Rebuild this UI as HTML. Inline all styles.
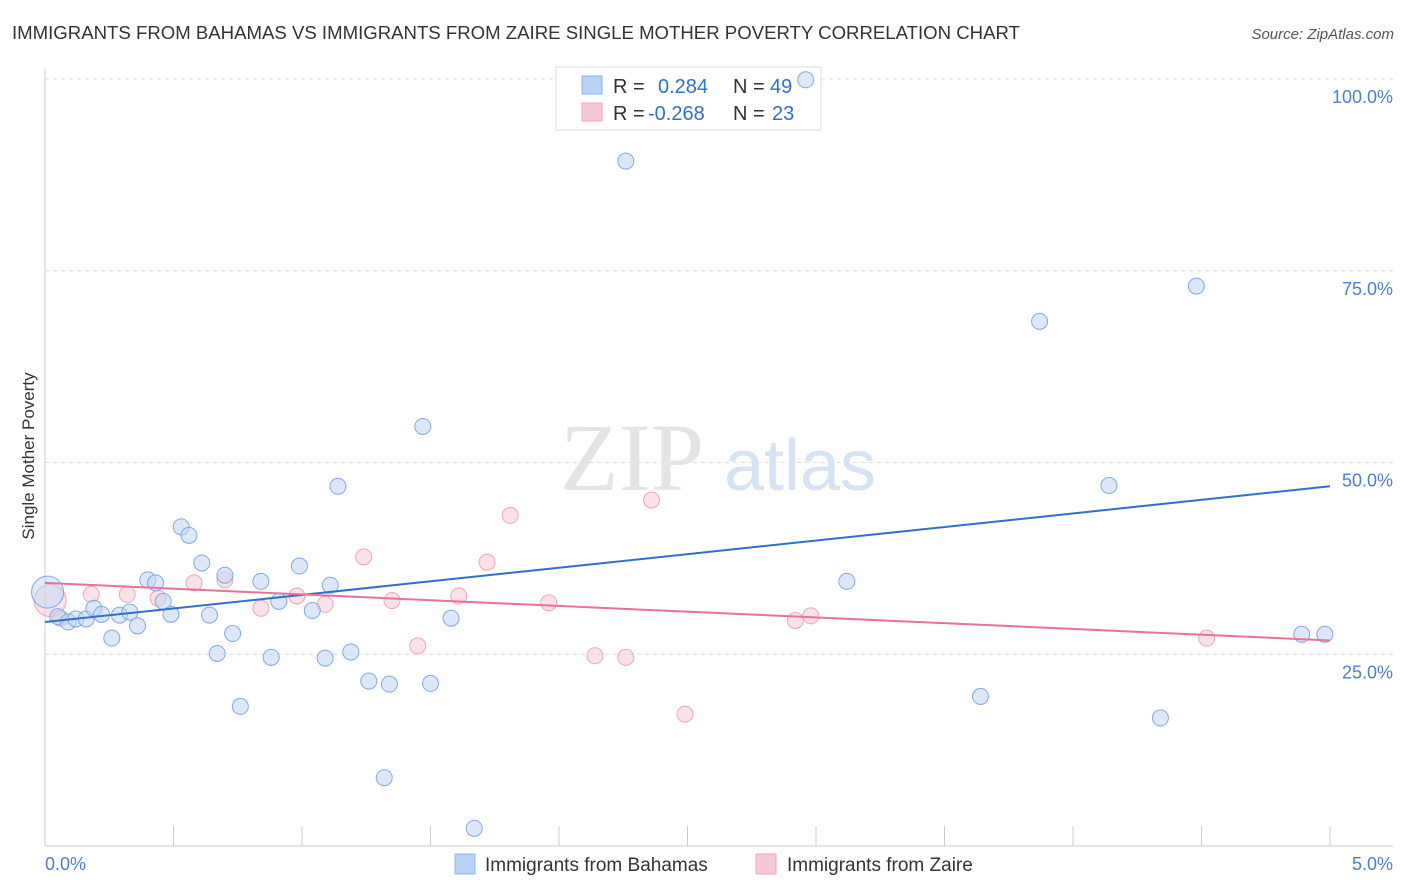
<!DOCTYPE html>
<html><head><meta charset="utf-8"><style>
body{margin:0;background:#fff;font-family:"Liberation Sans",sans-serif}
svg{display:block}
</style></head><body>
<svg id="chart" width="1406" height="892" viewBox="0 0 1406 892" xmlns="http://www.w3.org/2000/svg">
<text x="12" y="39" font-size="18.6" fill="#333">IMMIGRANTS FROM BAHAMAS VS IMMIGRANTS FROM ZAIRE SINGLE MOTHER POVERTY CORRELATION CHART</text>
<text x="1394" y="39" font-size="15" fill="#555" font-style="italic" text-anchor="end">Source: ZipAtlas.com</text>
<g id="grid"></g>
<g>
<text x="632" y="490" font-size="96" fill="#e4e4e4" font-family="Liberation Serif,serif" text-anchor="middle">ZIP</text>
<text x="800" y="490" font-size="72" fill="#d6e3f3" text-anchor="middle">atlas</text>
</g>
<line x1="45" y1="68" x2="45" y2="846" stroke="#ccc"/>
<line x1="45" y1="846" x2="1393" y2="846" stroke="#ccc"/>
<g id="xticks"></g>
<text transform="translate(34,456) rotate(-90)" font-size="17" fill="#333" text-anchor="middle">Single Mother Poverty</text>
<text x="45" y="870" font-size="18" fill="#4a7fd6">0.0%</text>
<text x="1393" y="870" font-size="18" fill="#4a7fd6" text-anchor="end">5.0%</text>
<g>
<rect x="556" y="67" width="265" height="63" fill="#fff" stroke="#ddd"/>
<rect x="582" y="76" width="20" height="18" fill="#b8d3f5" stroke="#8fb4e8"/>
<rect x="582" y="103" width="20" height="18" fill="#f8c8d6" stroke="#eea5bb"/>
<text x="613" y="93" font-size="20" fill="#333">R =<tspan fill="#2f6fd0" x="658">0.284</tspan><tspan fill="#333" x="733">N =</tspan><tspan fill="#2f6fd0" x="770">49</tspan></text>
<text x="613" y="120" font-size="20" fill="#333">R =<tspan fill="#2f6fd0" x="648">-0.268</tspan><tspan fill="#333" x="733">N =</tspan><tspan fill="#2f6fd0" x="772">23</tspan></text>
</g>
<g id="points"></g>
<g id="trends"></g>
<g>
<rect x="455" y="854" width="20" height="20" fill="#b8d3f5" stroke="#8fb4e8"/>
<text x="485" y="871" font-size="19" fill="#333">Immigrants from Bahamas</text>
<rect x="756" y="854" width="20" height="20" fill="#f8c8d6" stroke="#eea5bb"/>
<text x="787" y="871" font-size="19" fill="#333">Immigrants from Zaire</text>
</g>
</svg>
<script>
const blueX=[0.01,0.05,0.09,0.12,0.16,0.19,0.22,0.26,0.29,0.33,0.36,0.40,0.43,0.46,0.49,0.53,0.56,0.61,0.64,0.67,0.70,0.73,0.76,0.84,0.88,0.91,0.99,1.04,1.09,1.11,1.14,1.19,1.26,1.32,1.34,1.47,1.50,1.58,1.67,2.26,2.96,3.12,3.64,3.87,4.14,4.34,4.48,4.89,4.98];
const blueY=[33.1,29.9,29.2,29.6,29.6,31.0,30.2,27.1,30.1,30.5,28.7,34.7,34.3,31.9,30.2,41.6,40.5,36.9,30.1,25.1,35.3,27.7,18.2,34.5,24.6,31.9,36.5,30.7,24.5,34.0,46.9,25.3,21.5,8.9,21.1,54.7,21.2,29.7,2.3,89.3,99.9,34.5,19.5,68.4,47.0,16.7,73.0,27.6,27.6];
const pinkX=[0.02,0.06,0.18,0.32,0.44,0.58,0.70,0.84,0.98,1.09,1.24,1.35,1.45,1.61,1.72,1.81,1.96,2.14,2.26,2.36,2.49,2.92,2.98,4.52];
const pinkY=[32.0,29.7,32.8,32.8,32.3,34.3,34.7,31.0,32.6,31.5,37.7,32.0,26.1,32.6,37.0,43.1,31.7,24.8,24.6,45.1,17.2,29.4,30.0,27.1];
const blueTrend=[29.2,46.9];
const pinkTrend=[34.3,26.8];
const yTicks=[100,75,50,25];
const yTickLabels=["100.0%","75.0%","50.0%","25.0%"];
const xTicks=[0,0.5,1,1.5,2,2.5,3,3.5,4,4.5,5];
const NS="http://www.w3.org/2000/svg";
const sx=v=>45+v/5*1285;
const sy=v=>846-v/100*767;
function mk(tag,attrs,parent){const e=document.createElementNS(NS,tag);for(const k in attrs)e.setAttribute(k,attrs[k]);parent.appendChild(e);return e;}
const grid=document.getElementById('grid');
yTicks.forEach((t,i)=>{
 const l=mk('line',{x1:45,x2:1393,y1:sy(t),y2:sy(t),stroke:'#ddd','stroke-dasharray':'4,4'},grid);
 
 
 const tx=mk('text',{x:1393,y:sy(t)+24,'font-size':18,fill:'#4a7fd6','text-anchor':'end'},grid);
 tx.textContent=yTickLabels[i];
 
 
});
const xt=document.getElementById('xticks');
xTicks.forEach(t=>{
 const l=mk('line',{x1:sx(t),x2:sx(t),y1:826,y2:846,stroke:'#ccc'},xt);
 
 
});
const pts=document.getElementById('points');
function draw(xs,ys,fill,stroke,name){
 xs.forEach((x,i)=>{
  const big=i===0;
  const c=mk('circle',{cx:sx(x),cy:sy(ys[i]),r:big?16:8,fill:fill,'fill-opacity':big?0.5:0.55,stroke:stroke,'stroke-width':1},pts);
  
  
 });
}
draw(pinkX,pinkY,'#f8c8d6','#eea5bb','point-zaire');
draw(blueX,blueY,'#c0d6f5','#7ea8e6','point-bahamas');
const tr=document.getElementById('trends');
const b=mk('line',{x1:sx(0),y1:sy(blueTrend[0]),x2:sx(5),y2:sy(blueTrend[1]),stroke:'#2f6fd0','stroke-width':2},tr);


const p=mk('line',{x1:sx(0),y1:sy(pinkTrend[0]),x2:sx(5),y2:sy(pinkTrend[1]),stroke:'#e8729a','stroke-width':2},tr);


</script>
</body></html>
